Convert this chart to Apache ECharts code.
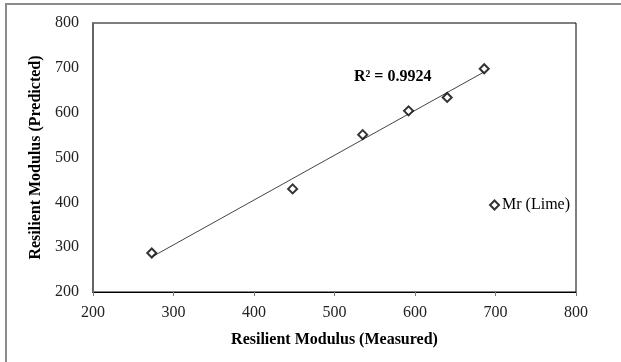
<!DOCTYPE html>
<html>
<head>
<meta charset="utf-8">
<script src="https://cdn.jsdelivr.net/npm/echarts@6/dist/echarts.min.js"></script>
<style>
  html, body { margin: 0; padding: 0; background: #fff; }
  #chart { width: 621px; height: 362px; }
</style>
</head>
<body>
<div id="chart"></div>
<script>
// Resilient modulus: measured vs. predicted (lime-treated samples)
const measured  = [273, 448, 535, 592, 640, 686];
const predicted = [287, 430, 551, 604, 634, 698];
const seriesName = 'Mr (Lime)';
const r2Text = 'R\u00B2 = 0.9924';
const axisMin = 200, axisMax = 800, axisStep = 100;

// Least-squares trend line through the points
const n = measured.length;
const mx = measured.reduce((a, b) => a + b, 0) / n;
const my = predicted.reduce((a, b) => a + b, 0) / n;
let sxy = 0, sxx = 0;
for (let i = 0; i < n; i++) {
  sxy += (measured[i] - mx) * (predicted[i] - my);
  sxx += (measured[i] - mx) * (measured[i] - mx);
}
const slope = sxy / sxx;
const intercept = my - slope * mx;
const xLo = Math.min(...measured), xHi = Math.max(...measured);
const trend = [[xLo, intercept + slope * xLo], [xHi, intercept + slope * xHi]];

const FONT = '"Liberation Serif", "Times New Roman", serif';
const chart = echarts.init(document.getElementById('chart'));
chart.setOption({
  backgroundColor: '#ffffff',
  animation: false,
  grid: { left: 93, right: 45, top: 23, bottom: 70, show: true, borderColor: '#000', borderWidth: 1, backgroundColor: 'transparent' },
  xAxis: {
    type: 'value', min: axisMin, max: axisMax, interval: axisStep,
    name: 'Resilient Modulus (Measured)', nameLocation: 'middle', nameGap: 40,
    nameTextStyle: { fontFamily: FONT, fontWeight: 'bold', fontSize: 16, color: '#000' },
    axisLine: { show: true, lineStyle: { color: '#000', width: 1 } },
    axisTick: { show: true, inside: false, length: 4, lineStyle: { color: '#777' } },
    axisLabel: { fontFamily: FONT, fontSize: 16, color: '#222', margin: 13 },
    splitLine: { show: false }
  },
  yAxis: {
    type: 'value', min: axisMin, max: axisMax, interval: axisStep,
    name: 'Resilient Modulus (Predicted)', nameLocation: 'middle', nameGap: 46, nameRotate: 90,
    nameTextStyle: { fontFamily: FONT, fontWeight: 'bold', fontSize: 16, color: '#000' },
    axisLine: { show: true, lineStyle: { color: '#666', width: 2 } },
    axisTick: { show: false },
    axisLabel: { fontFamily: FONT, fontSize: 16, color: '#222', margin: 14 },
    splitLine: { show: false }
  },
  legend: {
    data: [seriesName],
    right: 46, top: 192,
    icon: 'diamond', itemWidth: 9, itemHeight: 9, itemGap: 4,
    textStyle: { fontFamily: FONT, fontSize: 16, color: '#000', padding: [0, 0, 0, -2] },
    itemStyle: { color: '#fff', borderColor: '#000', borderWidth: 2 }
  },
  graphic: [
    { type: 'rect', shape: { x: 6, y: 4, width: 700, height: 400 }, style: { fill: 'none', stroke: '#8c8c8c', lineWidth: 2 }, z: 0 },
    { type: 'text', left: 354, top: 69, style: { text: r2Text, font: 'bold 16px ' + FONT, fill: '#000' }, z: 10 }
  ],
  series: [
    {
      name: 'trend', type: 'line', data: trend, symbol: 'none',
      lineStyle: { color: '#444', width: 1 }, silent: true, z: 2
    },
    {
      name: seriesName, type: 'scatter',
      data: measured.map((x, i) => [x, predicted[i]]),
      symbol: 'diamond', symbolSize: 9,
      itemStyle: { color: '#fff', borderColor: '#000', borderWidth: 2 }, z: 3
    }
  ]
});
</script>
</body>
</html>
